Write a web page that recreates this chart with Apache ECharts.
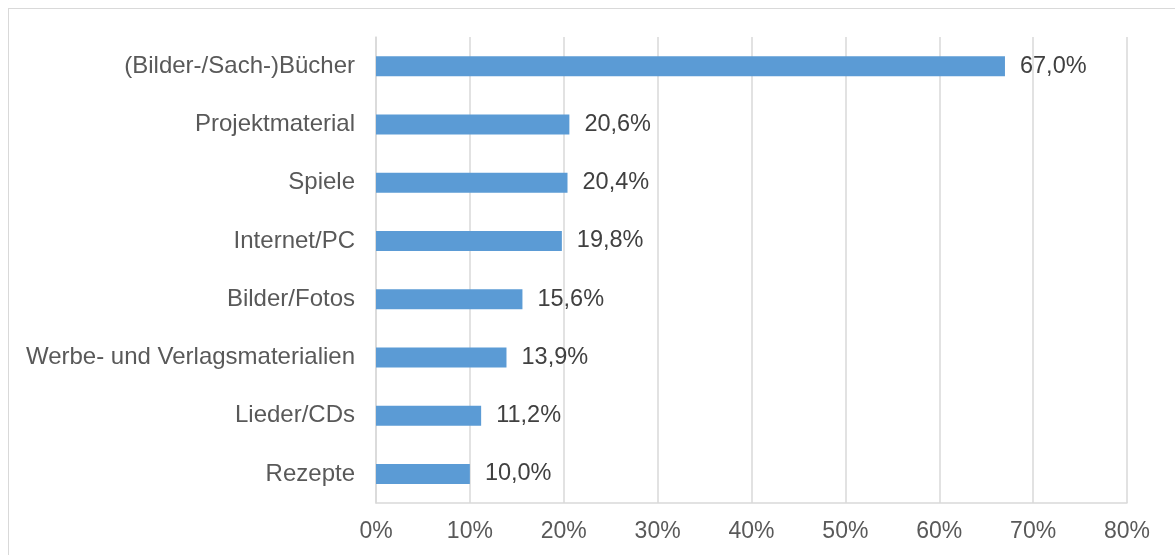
<!DOCTYPE html>
<html>
<head>
<meta charset="utf-8">
<script src="https://cdn.jsdelivr.net/npm/echarts@6/dist/echarts.min.js"></script>
<style>
    html, body { margin: 0; padding: 0; background: #fff; }
    #chart { width: 1175px; height: 555px; position: relative; }
    .frame { position: absolute; left: 8px; top: 8px; width: 1200px; height: 600px; border: 1px solid #d9d9d9; box-sizing: border-box; }
</style>
</head>
<body>
<div class="frame"></div>
<div id="chart"></div>
<script>
// Kategorien von oben nach unten
var categories = ['(Bilder-/Sach-)Bücher', 'Projektmaterial', 'Spiele', 'Internet/PC', 'Bilder/Fotos', 'Werbe- und Verlagsmaterialien', 'Lieder/CDs', 'Rezepte'];
var values = [67.0, 20.6, 20.4, 19.8, 15.6, 13.9, 11.2, 10.0];
var axisMax = 80;
var axisStep = 10;

var fmt = function (v) { return v.toFixed(1).replace('.', ',') + '%'; };

var myChart = echarts.init(document.getElementById('chart'));
var option = {
    animation: false,
    textStyle: { fontFamily: 'Liberation Sans, Arial, sans-serif' },
    grid: { left: 376, right: 48, top: 37, bottom: 52, containLabel: false },
    xAxis: {
        type: 'value', min: 0, max: axisMax, interval: axisStep,
        axisLine: { show: true, lineStyle: { color: '#d9d9d9', width: 1.5 } },
        axisTick: { show: false },
        splitLine: { show: true, lineStyle: { color: '#d9d9d9', width: 1.5 } },
        axisLabel: { color: '#595959', fontSize: 23, margin: 17, formatter: '{value}%' }
    },
    yAxis: {
        type: 'category', inverse: true, data: categories,
        axisLine: { show: true, lineStyle: { color: '#d9d9d9', width: 1.5 } },
        axisTick: { show: false },
        axisLabel: { color: '#595959', fontSize: 24, margin: 21 }
    },
    series: [
        {
            type: 'bar', data: values, barWidth: 20,
            itemStyle: { color: '#5b9bd5' },
            label: {
                show: true, position: 'right', distance: 15,
                color: '#404040', fontSize: 23.5,
                formatter: function (p) { return fmt(p.value); }
            }
        }
    ]
};
myChart.setOption(option);
</script>
</body>
</html>
